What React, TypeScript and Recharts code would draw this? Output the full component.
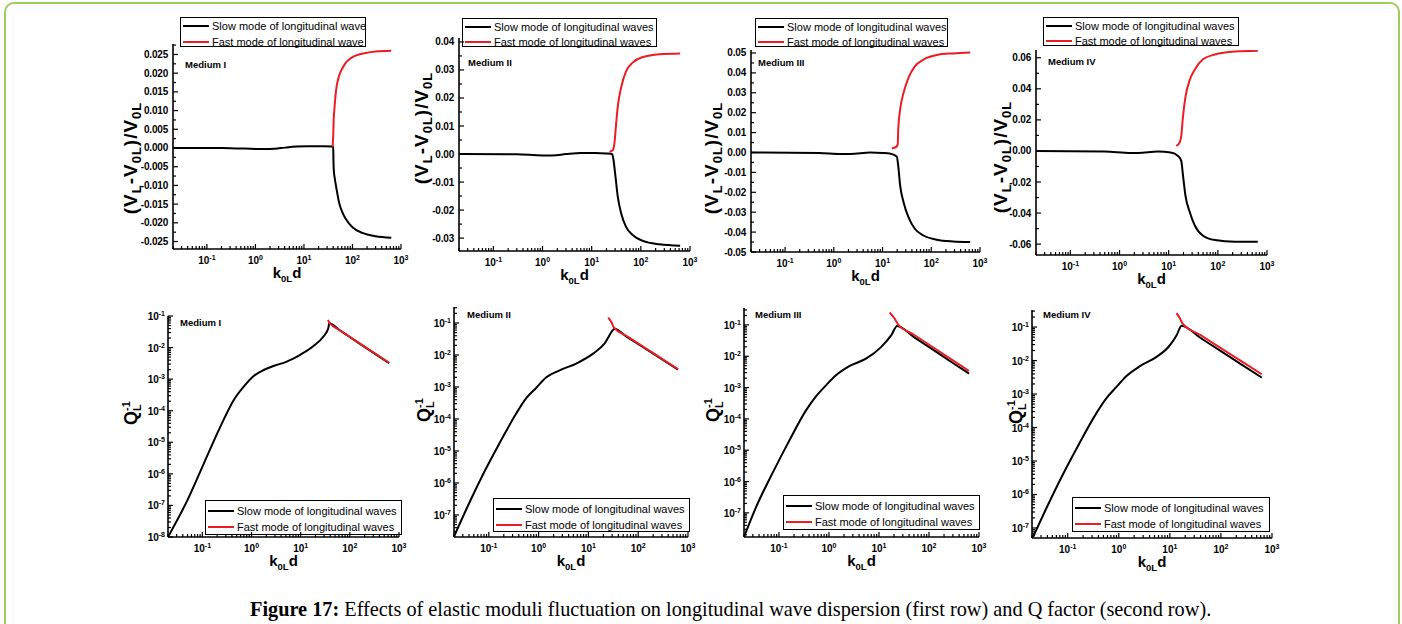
import React from 'react';
import { LineChart, Line, XAxis, YAxis } from 'recharts';

const FONT = '"Liberation Sans", Arial, Helvetica, sans-serif';
const SERIF = '"Liberation Serif", "Times New Roman", serif';
const BLACK = '#000000';
const RED = '#ec1c24';

// k0L d axis, the same on every panel
const kDomain: [number, number] = [0.02, 1000];
const kMajorExp = [-1, 0, 1, 2, 3];

// ---- first row: (VL - V0L)/V0L as [k0L d, value] ----
const dispSlowI = [
  [0.02, 0], [0.1, 0], [0.3, -0.00005], [0.8, -0.0002], [1.5, -0.0003], [2.5, -0.0002], [4, 0.0001],
  [7, 0.0004], [12, 0.0005], [25, 0.0005], [38, 0.0004], [40, 0.0002], [40.5, -0.003], [41, -0.0055],
  [43, -0.008], [46, -0.0103], [53, -0.0146], [62, -0.0172], [73, -0.019], [100, -0.0212],
  [160, -0.0227], [300, -0.0236], [630, -0.024],
];
const dispFastI = [
  [39, 0.0004], [40, 0.003], [41, 0.0075], [42.5, 0.0106], [45.5, 0.015], [53, 0.0193], [62, 0.0213],
  [73, 0.0228], [100, 0.0243], [188, 0.0254], [300, 0.0258], [630, 0.026],
];
const dispSlowII = [
  [0.02, 0], [0.3, -0.0001], [1, -0.0005], [1.6, -0.0005], [3, 0], [6, 0.0004], [12, 0.0004], [20, 0.0002],
  [26, 0], [27.5, -0.0016], [30.5, -0.0081], [34, -0.0153], [40, -0.0213], [50, -0.026], [69, -0.029],
  [110, -0.031], [240, -0.0322], [630, -0.0327],
];
const dispFastII = [
  [23, 0.0008], [27, 0.0014], [29, 0.0038], [31.5, 0.011], [34, 0.017], [40, 0.024], [50, 0.0295],
  [69, 0.0327], [110, 0.0346], [240, 0.0356], [630, 0.0359],
];
const dispSlowIII = [
  [0.02, 0], [0.5, -0.0002], [1.4, -0.0007], [2.2, -0.0007], [5.6, 0], [10, -0.0002], [14, -0.0005],
  [19.6, -0.002], [21, -0.0067], [23, -0.0167], [27, -0.025], [34, -0.0325], [46, -0.0383], [69, -0.0417],
  [129, -0.0438], [280, -0.0447], [630, -0.045],
];
const dispFastIII = [
  [15.5, 0.002], [19, 0.0028], [20.5, 0.0042], [21, 0.0117], [23, 0.0217], [27, 0.03], [34, 0.0375],
  [46, 0.0433], [69, 0.0467], [129, 0.049], [280, 0.0498], [630, 0.0502],
];
const dispSlowIV = [
  [0.02, 0], [0.5, -0.0003], [1.7, -0.0013], [2.4, -0.0013], [6, -0.0004], [11, -0.001], [15.5, -0.0032],
  [18, -0.0064], [19.6, -0.016], [22, -0.029], [27, -0.0396], [34, -0.048], [50, -0.0546], [87, -0.0574],
  [224, -0.0585], [650, -0.0585],
];
const dispFastIV = [
  [14.3, 0.0032], [16.7, 0.0054], [18, 0.0096], [19.6, 0.0225], [22, 0.035], [27, 0.046], [34, 0.0525],
  [50, 0.059], [87, 0.0621], [224, 0.064], [650, 0.0645],
];

const dispTicksI = [-0.025, -0.02, -0.015, -0.01, -0.005, 0, 0.005, 0.01, 0.015, 0.02, 0.025];
const dispTicksII = [-0.03, -0.02, -0.01, 0, 0.01, 0.02, 0.03, 0.04];
const dispTicksIII = [-0.05, -0.04, -0.03, -0.02, -0.01, 0, 0.01, 0.02, 0.03, 0.04, 0.05];
const dispTicksIV = [-0.06, -0.04, -0.02, 0, 0.02, 0.04, 0.06];

// ---- second row: Q_L^-1 ----
const qSlowI = [
  [0.02, 1e-8], [0.05, 1.5e-7], [0.108, 2.2e-6], [0.234, 3.2e-5], [0.436, 2.2e-4], [0.7, 5.9e-4],
  [1.11, 1.26e-3], [1.77, 1.95e-3], [2.8, 2.6e-3], [5.2, 3.6e-3], [9.8, 5.9e-3], [18.2, 1.12e-2],
  [29, 2.24e-2], [36.5, 4.1e-2], [38, 5.9e-2], [60, 0.0367], [100, 0.0216], [250, 0.0083], [630, 3.2e-3],
];
const qFastI = [[36, 0.075], [38.5, 0.06], [40, 0.056], [60, 0.0369], [100, 0.0218], [250, 0.0085], [630, 0.0033]];
const qSlowII = [
  [0.02, 2.1e-8], [0.035, 1.45e-7], [0.076, 1.8e-6], [0.164, 1.74e-5], [0.355, 1.48e-4], [0.56, 4.4e-4],
  [0.9, 9.5e-4], [1.43, 2.0e-3], [2.64, 3.3e-3], [5.7, 5.4e-3], [12.4, 1.1e-2], [21.2, 2.3e-2],
  [31.6, 6.2e-2], [33, 6.6e-2], [60, 0.0364], [150, 0.0146], [350, 0.0063], [630, 3.5e-3],
];
const qFastII = [[25, 0.147], [29, 0.105], [33, 0.07], [60, 0.0384], [150, 0.0153], [350, 0.0065], [630, 0.0036]];
const qSlowIII = [
  [0.02, 1.7e-8], [0.035, 1.55e-7], [0.076, 2.0e-6], [0.163, 2.1e-5], [0.35, 1.9e-4], [0.56, 5.4e-4],
  [0.88, 1.2e-3], [1.4, 2.5e-3], [2.6, 4.9e-3], [5.6, 8.5e-3], [11, 1.95e-2], [17.8, 4.8e-2],
  [23, 9.3e-2], [50, 0.0409], [120, 0.0162], [300, 0.0061], [630, 2.8e-3],
];
const qFastIII = [[16.3, 0.25], [20.5, 0.16], [24, 0.105], [50, 0.0486], [120, 0.0194], [300, 0.0074], [630, 0.0034]];
const qSlowIV = [
  [0.021, 5.4e-8], [0.037, 3.5e-7], [0.08, 3.9e-6], [0.17, 3.4e-5], [0.36, 2.6e-4], [0.57, 7.4e-4],
  [0.89, 1.6e-3], [1.4, 3.4e-3], [2.6, 6.8e-3], [5.5, 1.29e-2], [9.3, 2.5e-2], [13.5, 5.6e-2],
  [17, 0.11], [40, 0.0472], [100, 0.0191], [250, 0.0077], [630, 3.1e-3],
];
const qFastIV = [[13.5, 0.26], [15.8, 0.18], [17.8, 0.126], [40, 0.0573], [100, 0.0234], [250, 0.0096], [630, 0.0039]];

const qExpI = [-8, -7, -6, -5, -4, -3, -2, -1];
const qExpRest = [-7, -6, -5, -4, -3, -2, -1];

const legendWave = ['Slow mode of longitudinal wave', 'Fast mode of longitudinal wave'];
const legendWaves = ['Slow mode of longitudinal waves', 'Fast mode of longitudinal waves'];
const mediumNames = ['Medium I', 'Medium II', 'Medium III', 'Medium IV'];

const captionBold = 'Figure 17:';
const captionText =
  ' Effects of elastic moduli fluctuation on longitudinal wave dispersion (first row) and Q factor (second row).';

// ---------------------------------------------------------------------------

const YW = 60; // y axis band
const MT = 10;
const MR = 12;
const XH = 40;

const toPts = (a: number[][]) => a.map(([k, v]) => ({ k, v }));
const near = (a: number, b: number) => Math.abs(a - b) <= Math.abs(b) * 1e-6 + 1e-12;

function linMinors(majors: number[], dom: [number, number]) {
  const step = majors[1] - majors[0];
  const out: number[] = [];
  for (let v = majors[0] - step / 2; v <= majors[majors.length - 1] + step; v += step) {
    if (v >= dom[0] && v <= dom[1]) out.push(v);
  }
  return out;
}
function logTicks(dom: [number, number]) {
  const out: number[] = [];
  for (let e = Math.floor(Math.log10(dom[0])); e <= Math.ceil(Math.log10(dom[1])); e++) {
    for (let m = 1; m <= 9; m++) {
      const v = m * Math.pow(10, e);
      if (v >= dom[0] * 0.9999 && v <= dom[1] * 1.0001) out.push(v);
    }
  }
  return out;
}
const kTicks = logTicks(kDomain);
const kMajors = kMajorExp.map((e) => Math.pow(10, e));

interface Panel {
  kind: 'disp' | 'q';
  slow: { k: number; v: number }[];
  fast: { k: number; v: number }[];
  yDomain: [number, number];
  majors: number[];
  exps?: number[];
  dec?: number;
  plot: { l: number; t: number; r: number; b: number };
  medium: string;
  mediumPos: [number, number];
  yTitle: [number, number];
  legend: { l: number; t: number; w: number; h: number; rows: [number, number]; names: string[] };
}

const panels: Panel[] = [
  {
    kind: 'disp', slow: toPts(dispSlowI), fast: toPts(dispFastI), yDomain: [-0.027, 0.0278], majors: dispTicksI, dec: 3,
    plot: { l: 173, t: 44, r: 401, b: 249 }, medium: mediumNames[0], mediumPos: [185, 65], yTitle: [137, 158],
    legend: { l: 180, t: 17, w: 186, h: 30, rows: [8, 24], names: legendWave },
  },
  {
    kind: 'disp', slow: toPts(dispSlowII), fast: toPts(dispFastII), yDomain: [-0.0346, 0.0414], majors: dispTicksII, dec: 2,
    plot: { l: 459, t: 38, r: 690, b: 251 }, medium: mediumNames[1], mediumPos: [468, 63], yTitle: [428, 128],
    legend: { l: 462, t: 18, w: 195, h: 29, rows: [8, 23], names: legendWaves },
  },
  {
    kind: 'disp', slow: toPts(dispSlowIII), fast: toPts(dispFastIII), yDomain: [-0.05, 0.0515], majors: dispTicksIII, dec: 2,
    plot: { l: 751, t: 50, r: 980, b: 252 }, medium: mediumNames[2], mediumPos: [758, 63], yTitle: [718, 158],
    legend: { l: 755, t: 18, w: 193, h: 29, rows: [8, 23], names: legendWaves },
  },
  {
    kind: 'disp', slow: toPts(dispSlowIV), fast: toPts(dispFastIV), yDomain: [-0.067, 0.065], majors: dispTicksIV, dec: 2,
    plot: { l: 1036, t: 50, r: 1267, b: 255 }, medium: mediumNames[3], mediumPos: [1048, 62], yTitle: [1007, 157],
    legend: { l: 1043, t: 17, w: 196, h: 29, rows: [8, 23], names: legendWaves },
  },
  {
    kind: 'q', slow: toPts(qSlowI), fast: toPts(qFastI), yDomain: [1e-8, 1e-1], majors: [], exps: qExpI,
    plot: { l: 168, t: 316, r: 399, b: 537 }, medium: mediumNames[0], mediumPos: [180, 323], yTitle: [137, 413],
    legend: { l: 205, t: 500, w: 197, h: 35, rows: [10, 26], names: legendWaves },
  },
  {
    kind: 'q', slow: toPts(qSlowII), fast: toPts(qFastII), yDomain: [Math.pow(10, -7.69), Math.pow(10, -0.5)], majors: [], exps: qExpRest,
    plot: { l: 454, t: 307, r: 688, b: 537 }, medium: mediumNames[1], mediumPos: [467, 315], yTitle: [430, 410],
    legend: { l: 493, t: 498, w: 197, h: 34, rows: [10, 26], names: legendWaves },
  },
  {
    kind: 'q', slow: toPts(qSlowIII), fast: toPts(qFastIII), yDomain: [Math.pow(10, -7.77), Math.pow(10, -0.46)], majors: [], exps: qExpRest,
    plot: { l: 744, t: 308, r: 979, b: 537 }, medium: mediumNames[2], mediumPos: [755, 315], yTitle: [719, 410],
    legend: { l: 783, t: 495, w: 197, h: 35, rows: [10, 26], names: legendWaves },
  },
  {
    kind: 'q', slow: toPts(qSlowIV), fast: toPts(qFastIV), yDomain: [Math.pow(10, -7.3), Math.pow(10, -0.49)], majors: [], exps: qExpRest,
    plot: { l: 1032, t: 310, r: 1272, b: 538 }, medium: mediumNames[3], mediumPos: [1043, 315], yTitle: [1022, 412],
    legend: { l: 1072, t: 497, w: 198, h: 35, rows: [10, 26], names: legendWaves },
  },
];

// ---------------------------------------------------------------------------

function Pow10({ x, y, exp, anchor }: { x: number; y: number; exp: number; anchor: string }) {
  return (
    <text x={x} y={y} textAnchor={anchor as any} fontSize={10} fontWeight="bold" fontFamily={FONT} fill={BLACK}>
      10<tspan dy={-4} fontSize={7}>{String(exp)}</tspan>
    </text>
  );
}

function XTick(props: any) {
  const { x, y, payload } = props;
  const v = payload.value;
  const maj = kMajors.find((m) => near(v, m));
  return (
    <g>
      <line x1={x} x2={x} y1={y} y2={y - (maj !== undefined ? 5 : 3)} stroke={BLACK} strokeWidth={1.2} />
      {maj !== undefined && <Pow10 x={x} y={y + 15} exp={Math.round(Math.log10(maj))} anchor="middle" />}
    </g>
  );
}

function LinYTick(props: any) {
  const { x, y, payload, majors, dec } = props;
  const v = payload.value;
  const isMaj = majors.some((m: number) => near(v, m));
  return (
    <g>
      <line x1={x} x2={x + (isMaj ? 5 : 3)} y1={y} y2={y} stroke={BLACK} strokeWidth={1.2} />
      {isMaj && (
        <text x={x - 5} y={y} dy="0.35em" textAnchor="end" fontSize={10} fontWeight="bold" fontFamily={FONT} fill={BLACK}
          letterSpacing={-0.2}>
          {v.toFixed(dec)}
        </text>
      )}
    </g>
  );
}

function LogYTick(props: any) {
  const { x, y, payload, exps } = props;
  const v = payload.value;
  const e = exps.find((ex: number) => near(v, Math.pow(10, ex)));
  return (
    <g>
      <line x1={x} x2={x + (e !== undefined ? 5 : 3)} y1={y} y2={y} stroke={BLACK} strokeWidth={1.2} />
      {e !== undefined && <Pow10 x={x - 3} y={y + 4} exp={e} anchor="end" />}
    </g>
  );
}

// axis titles and the "Medium" tag, in chart coordinates
function YTitle({ p }: { p: Panel }) {
  const ox = p.plot.l - YW;
  const oy = p.plot.t - MT;
  const [bx, cy] = p.yTitle;
  const [mx, my] = p.mediumPos;
  return (
    <g>
      {p.kind === 'disp' ? (
        <text transform={`translate(${bx - ox},${cy - oy}) rotate(-90)`} textAnchor="middle" fontSize={19}
          fontWeight="bold" fontFamily={FONT} fill={BLACK} letterSpacing={1}>
          (V<tspan dy={4} fontSize={13}>L</tspan>
          <tspan dy={-4}>-V</tspan>
          <tspan dy={4} fontSize={13}>0L</tspan>
          <tspan dy={-4}>)/V</tspan>
          <tspan dy={4} fontSize={13}>0L</tspan>
        </text>
      ) : (
        <text transform={`translate(${bx - ox},${cy - oy}) rotate(-90)`} textAnchor="middle" fontSize={18}
          fontWeight="bold" fontFamily={FONT} fill={BLACK}>
          Q<tspan dy={4} fontSize={11}>L</tspan>
          <tspan dx={-6.7} dy={-11} fontSize={11}>-1</tspan>
        </text>
      )}
      <text x={mx - ox} y={my - oy} dy="0.35em" fontSize={9.5} fontWeight="bold" fontFamily={FONT} fill={BLACK}>
        {p.medium}
      </text>
    </g>
  );
}

function XTitle({ p }: { p: Panel }) {
  const ox = p.plot.l - YW;
  const oy = p.plot.t - MT;
  const cx = (p.plot.l + p.plot.r) / 2 - ox;
  const by = p.plot.b + 29 - oy;
  return (
    <text x={cx} y={by} textAnchor="middle" fontSize={15} fontWeight="bold" fontFamily={FONT} fill={BLACK}>
      k<tspan dy={4} fontSize={9.5}>0L</tspan>
      <tspan dy={-4}>d</tspan>
    </text>
  );
}

function LegendBox({ p }: { p: Panel }) {
  const lg = p.legend;
  const colors = [BLACK, RED];
  return (
    <div style={{ position: 'absolute', left: lg.l, top: lg.t, width: lg.w, height: lg.h, border: '1px solid #000',
      boxSizing: 'border-box', fontFamily: FONT, fontSize: 11, color: BLACK }}>
      {lg.names.map((n, i) => (
        <div key={n} style={{ position: 'absolute', left: 0, top: lg.rows[i] - 8, height: 16, whiteSpace: 'nowrap' }}>
          <span style={{ position: 'absolute', left: 2, top: 7, width: 26, height: 2, background: colors[i] }} />
          <span style={{ position: 'absolute', left: 31, top: 0, lineHeight: '16px' }}>{n}</span>
        </div>
      ))}
    </div>
  );
}

function PanelChart({ p }: { p: Panel }) {
  const W = p.plot.r - p.plot.l + YW + MR;
  const H = p.plot.b - p.plot.t + MT + XH;
  const isLog = p.kind === 'q';
  const yTicks = isLog
    ? logTicks(p.yDomain)
    : [...p.majors, ...linMinors(p.majors, p.yDomain)].sort((a, b) => a - b);
  const axisLine = { stroke: BLACK, strokeWidth: 1.6 };
  return (
    <div style={{ position: 'absolute', left: p.plot.l - YW, top: p.plot.t - MT }}>
      <LineChart width={W} height={H} margin={{ top: MT, right: MR, bottom: 0, left: 0 }}>
        <XAxis type="number" dataKey="k" scale="log" domain={kDomain} allowDataOverflow ticks={kTicks} interval={0}
          tickSize={0} tickMargin={0} tickLine={false} axisLine={axisLine} height={XH}
          tick={(t: any) => <XTick {...t} />} label={<XTitle p={p} />} />
        <YAxis type="number" scale={isLog ? 'log' : 'linear'} domain={p.yDomain} allowDataOverflow ticks={yTicks}
          interval={0} tickSize={0} tickMargin={0} tickLine={false} axisLine={axisLine} width={YW}
          tick={(t: any) => (isLog ? <LogYTick {...t} exps={p.exps} /> : <LinYTick {...t} majors={p.majors} dec={p.dec} />)}
          label={<YTitle p={p} />} />
        <Line data={p.slow} dataKey="v" type="monotone" stroke={BLACK} strokeWidth={2} dot={false} isAnimationActive={false} />
        <Line data={p.fast} dataKey="v" type="monotone" stroke={RED} strokeWidth={2} dot={false} isAnimationActive={false} />
      </LineChart>
    </div>
  );
}

export default function App() {
  return (
    <div style={{ position: 'absolute', left: 0, top: 0, width: 1402, height: 624, overflow: 'hidden', background: '#fff' }}>
      <div style={{ position: 'absolute', left: 4, top: 2, width: 1396, height: 660, border: '2px solid #9ccf5c',
        borderRadius: 10, boxSizing: 'border-box' }} />
      {panels.map((p, i) => (
        <PanelChart key={i} p={p} />
      ))}
      {panels.map((p, i) => (
        <LegendBox key={'lg' + i} p={p} />
      ))}
      <div style={{ position: 'absolute', left: 250, top: 596, whiteSpace: 'nowrap', fontFamily: SERIF, fontSize: 20.3,
        lineHeight: '26px', color: BLACK }}>
        <b>{captionBold}</b>
        {captionText}
      </div>
    </div>
  );
}
